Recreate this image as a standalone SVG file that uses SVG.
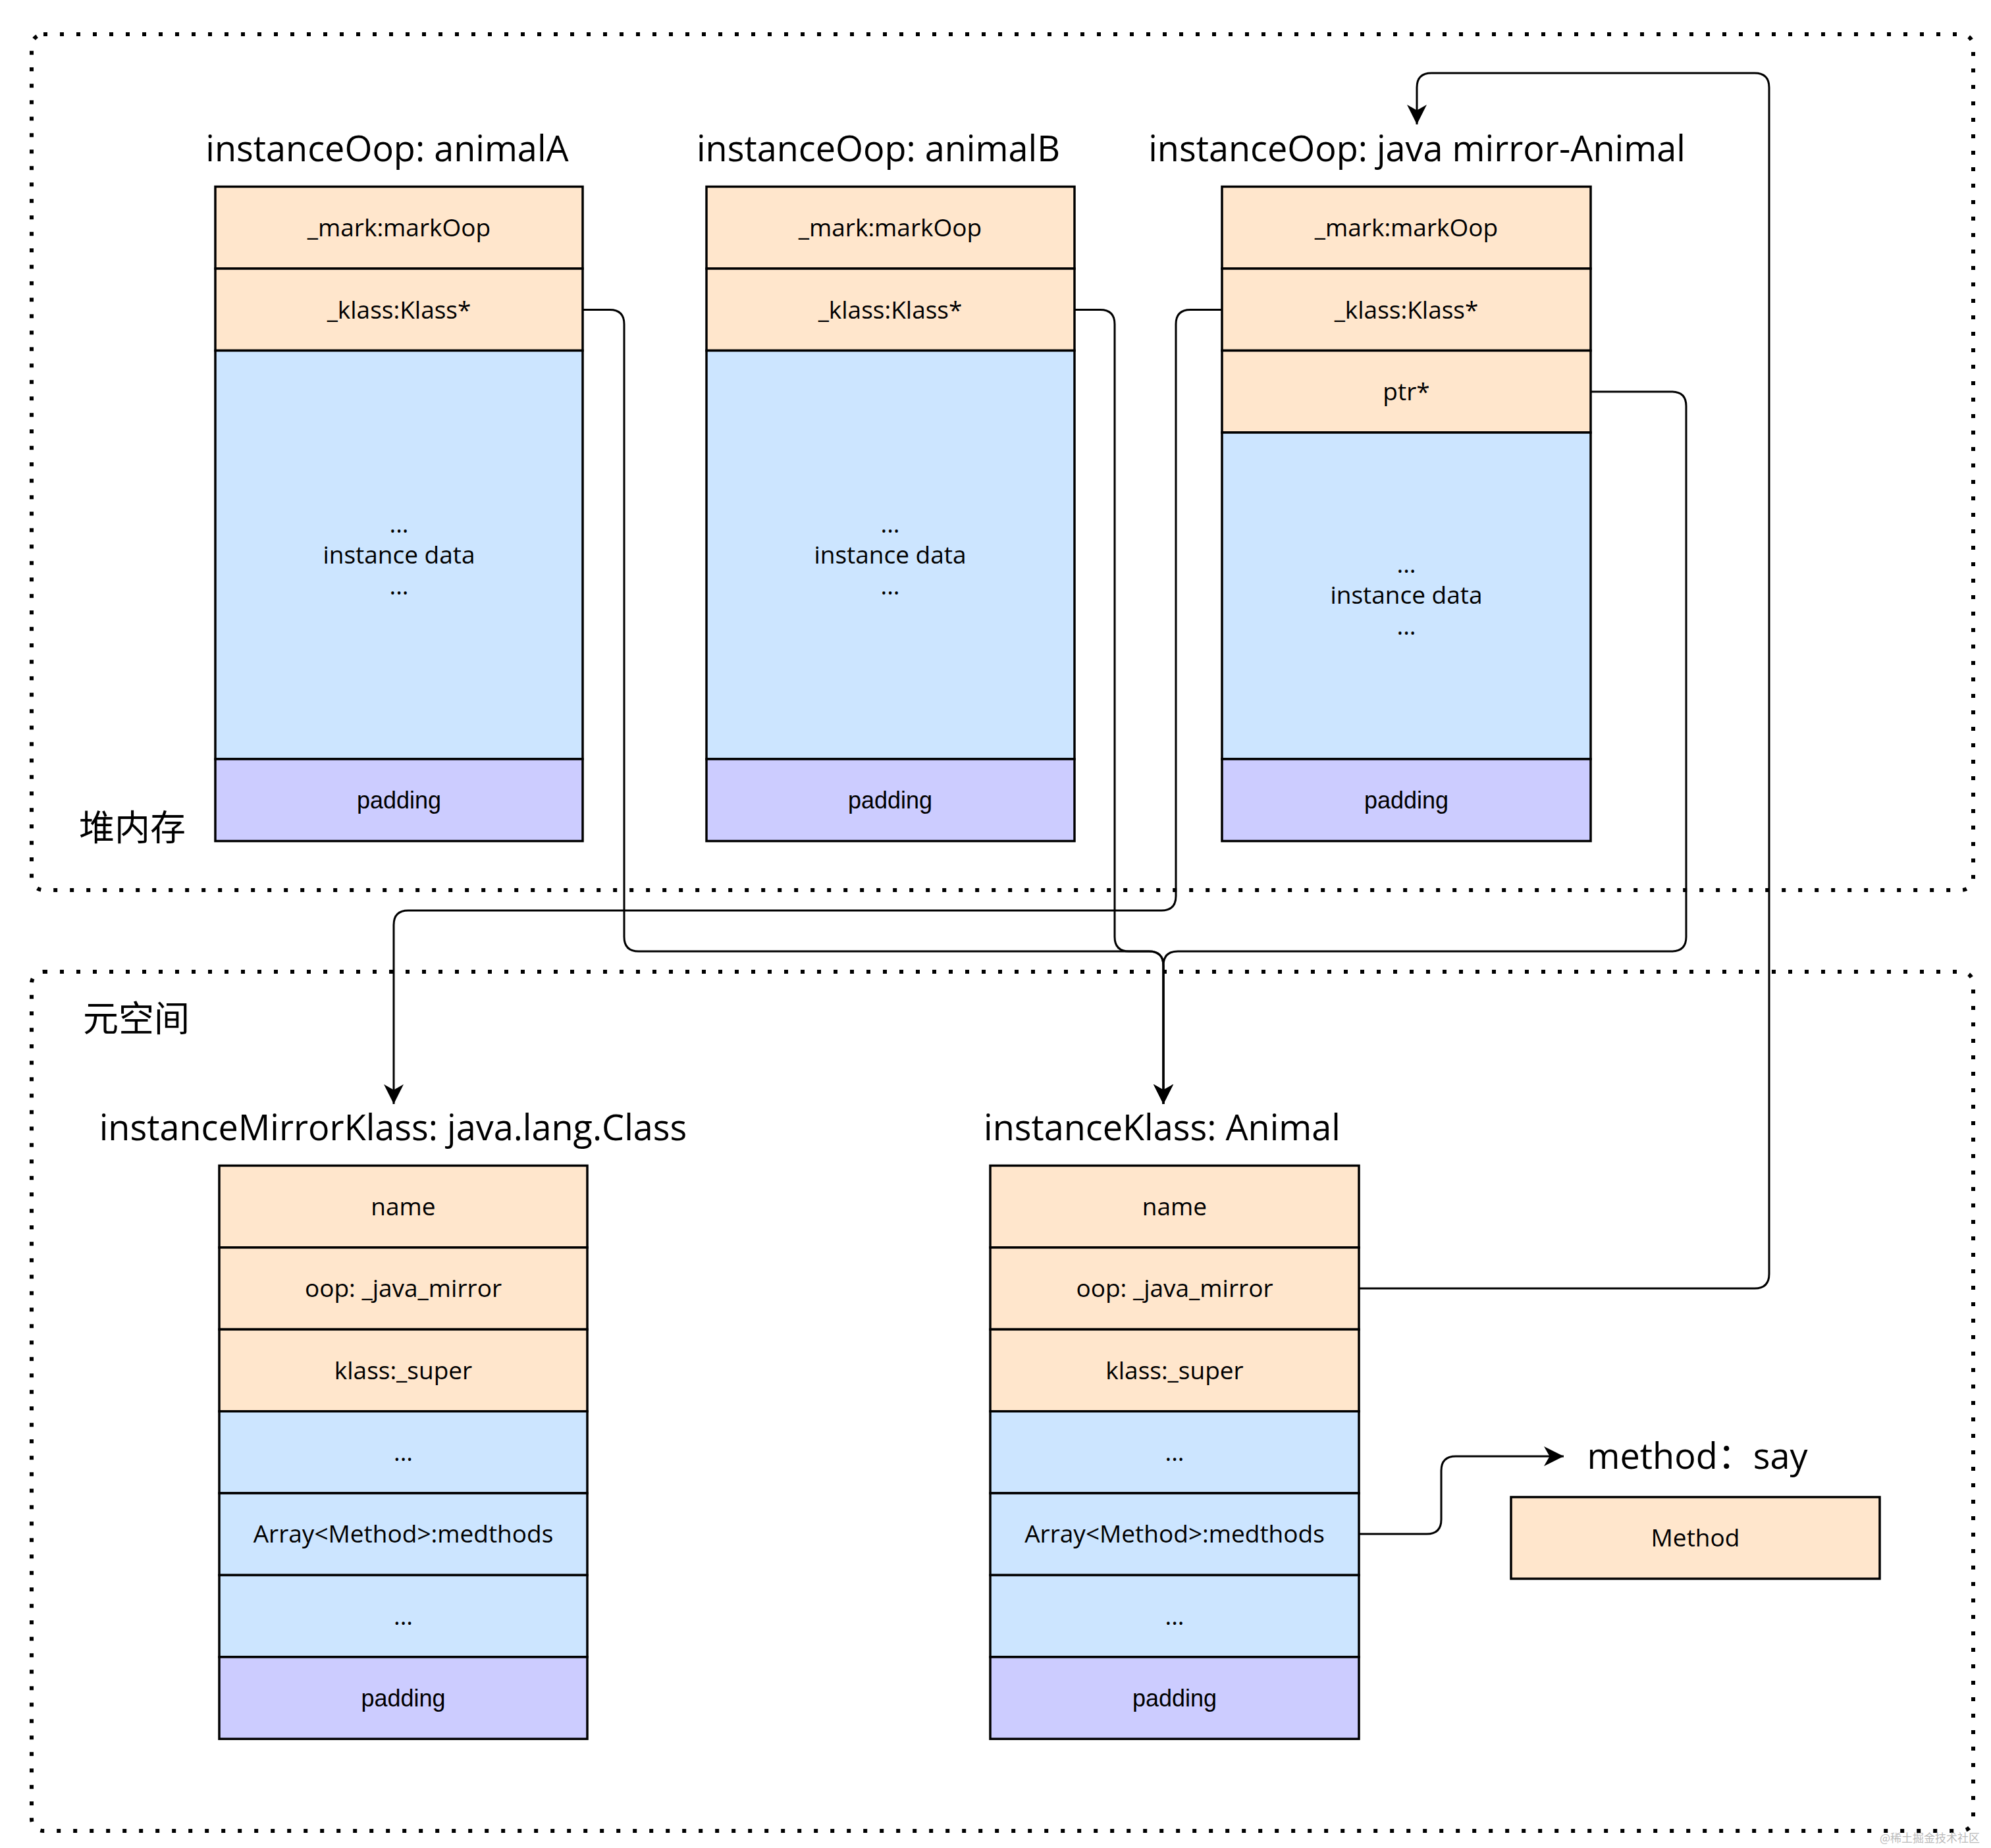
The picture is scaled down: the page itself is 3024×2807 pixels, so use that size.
<svg xmlns="http://www.w3.org/2000/svg" width="3024" height="2807" viewBox="0 0 3024 2807">
<style>
.area{fill:none;stroke:#000;stroke-width:6;stroke-dasharray:6 19;}
.o{fill:#FFE6CC;stroke:#000;stroke-width:3.5;}
.b{fill:#CCE5FF;stroke:#000;stroke-width:3.5;}
.p{fill:#CCCCFF;stroke:#000;stroke-width:3.5;}
.t{font-family:"Open Sans","Liberation Sans",sans-serif;font-size:37px;text-anchor:middle;fill:#000;}
.pad{font-family:"Liberation Sans",Arial,sans-serif;font-size:36px;text-anchor:middle;fill:#000;}
.title{font-family:"Open Sans","Liberation Sans","Noto Sans CJK SC",sans-serif;font-size:54px;text-anchor:middle;fill:#000;}
.cjk{font-family:"Noto Sans CJK SC",sans-serif;font-size:54px;fill:#000;}
.wm{font-family:"Noto Sans CJK SC",sans-serif;font-size:17px;fill:#bbbbbb;}
.c{fill:none;stroke:#000;stroke-width:3;}
</style>
<defs>
<marker id="arr" markerUnits="userSpaceOnUse" markerWidth="30" markerHeight="30" viewBox="0 0 28 28" refX="28" refY="14" orient="auto">
<path d="M0,0 L28,14 L0,28 L8,14 Z" fill="#000"/>
</marker>
</defs>
<rect width="3024" height="2807" fill="#fff"/>

<g id="heap">
<rect class="area" x="48" y="52" width="2949" height="1300" rx="18"/>
<text class="cjk" x="120" y="1277">堆内存</text>
</g>
<g id="metaspace">
<rect class="area" x="48" y="1476" width="2949" height="1305" rx="18"/>
<text class="cjk" x="126" y="1567">元空间</text>
</g>

<g id="animalA">
<text class="title" x="588" y="245">instanceOop: animalA</text>
<rect class="o" x="327" y="283.5" width="558" height="124.5"/>
<rect class="o" x="327" y="408" width="558" height="124.5"/>
<rect class="b" x="327" y="532.5" width="558" height="620.5"/>
<rect class="p" x="327" y="1153" width="558" height="124.5"/>
<text class="t" x="606" y="359">_mark:markOop</text>
<text class="t" x="606" y="484">_klass:Klass*</text>
<text class="t" x="606" y="809">...</text>
<text class="t" x="606" y="856">instance data</text>
<text class="t" x="606" y="903">...</text>
<text class="pad" x="606" y="1228">padding</text>
</g>

<g id="animalB">
<text class="title" x="1334" y="245">instanceOop: animalB</text>
<rect class="o" x="1073" y="283.5" width="559" height="124.5"/>
<rect class="o" x="1073" y="408" width="559" height="124.5"/>
<rect class="b" x="1073" y="532.5" width="559" height="620.5"/>
<rect class="p" x="1073" y="1153" width="559" height="124.5"/>
<text class="t" x="1352" y="359">_mark:markOop</text>
<text class="t" x="1352" y="484">_klass:Klass*</text>
<text class="t" x="1352" y="809">...</text>
<text class="t" x="1352" y="856">instance data</text>
<text class="t" x="1352" y="903">...</text>
<text class="pad" x="1352" y="1228">padding</text>
</g>

<g id="mirrorAnimal">
<text class="title" x="2152" y="245">instanceOop: java mirror-Animal</text>
<rect class="o" x="1856" y="283.5" width="560" height="124.5"/>
<rect class="o" x="1856" y="408" width="560" height="124.5"/>
<rect class="o" x="1856" y="532.5" width="560" height="124.5"/>
<rect class="b" x="1856" y="657" width="560" height="496"/>
<rect class="p" x="1856" y="1153" width="560" height="124.5"/>
<text class="t" x="2136" y="359">_mark:markOop</text>
<text class="t" x="2136" y="484">_klass:Klass*</text>
<text class="t" x="2136" y="608">ptr*</text>
<text class="t" x="2136" y="870">...</text>
<text class="t" x="2136" y="917">instance data</text>
<text class="t" x="2136" y="964">...</text>
<text class="pad" x="2136" y="1228">padding</text>
</g>

<g id="mirrorKlass">
<text class="title" x="597" y="1732">instanceMirrorKlass: java.lang.Class</text>
<rect class="o" x="333" y="1770.5" width="559" height="124.4"/>
<rect class="o" x="333" y="1894.9" width="559" height="124.4"/>
<rect class="o" x="333" y="2019.3" width="559" height="124.4"/>
<rect class="b" x="333" y="2143.7" width="559" height="124.4"/>
<rect class="b" x="333" y="2268.1" width="559" height="124.4"/>
<rect class="b" x="333" y="2392.5" width="559" height="124.4"/>
<rect class="p" x="333" y="2516.9" width="559" height="124.4"/>
<text class="t" x="612.5" y="1846">name</text>
<text class="t" x="612.5" y="1970">oop: _java_mirror</text>
<text class="t" x="612.5" y="2095">klass:_super</text>
<text class="t" x="612.5" y="2219">...</text>
<text class="t" x="612.5" y="2343">Array&lt;Method&gt;:medthods</text>
<text class="t" x="612.5" y="2468">...</text>
<text class="pad" x="612.5" y="2592">padding</text>
</g>

<g id="instanceKlass">
<text class="title" x="1765" y="1732">instanceKlass: Animal</text>
<rect class="o" x="1504" y="1770.5" width="560" height="124.4"/>
<rect class="o" x="1504" y="1894.9" width="560" height="124.4"/>
<rect class="o" x="1504" y="2019.3" width="560" height="124.4"/>
<rect class="b" x="1504" y="2143.7" width="560" height="124.4"/>
<rect class="b" x="1504" y="2268.1" width="560" height="124.4"/>
<rect class="b" x="1504" y="2392.5" width="560" height="124.4"/>
<rect class="p" x="1504" y="2516.9" width="560" height="124.4"/>
<text class="t" x="1784" y="1846">name</text>
<text class="t" x="1784" y="1970">oop: _java_mirror</text>
<text class="t" x="1784" y="2095">klass:_super</text>
<text class="t" x="1784" y="2219">...</text>
<text class="t" x="1784" y="2343">Array&lt;Method&gt;:medthods</text>
<text class="t" x="1784" y="2468">...</text>
<text class="pad" x="1784" y="2592">padding</text>
</g>

<g id="methodSay">
<text class="title" x="2578" y="2231">method：say</text>
<rect class="o" x="2295" y="2274" width="560" height="124"/>
<text class="t" x="2575" y="2349">Method</text>
</g>

<g id="connectors">
<path class="c" marker-end="url(#arr)" d="M885,470.5 H926 Q948,470.5 948,492.5 V1423 Q948,1445 970,1445 H1745 Q1767,1445 1767,1467 V1677"/>
<path class="c" marker-end="url(#arr)" d="M1632,470.5 H1671 Q1693,470.5 1693,492.5 V1423 Q1693,1445 1715,1445 H1745 Q1767,1445 1767,1467 V1677"/>
<path class="c" marker-end="url(#arr)" d="M2416,595 H2539 Q2561,595 2561,617 V1423 Q2561,1445 2539,1445 H1789 Q1767,1445 1767,1467 V1677"/>
<path class="c" marker-end="url(#arr)" d="M1856,470.5 H1808 Q1786,470.5 1786,492.5 V1361 Q1786,1383 1764,1383 H620 Q598,1383 598,1405 V1677"/>
<path class="c" marker-end="url(#arr)" d="M2064,1957 H2665 Q2687,1957 2687,1935 V133 Q2687,111 2665,111 H2174 Q2152,111 2152,133 V189"/>
<path class="c" marker-end="url(#arr)" d="M2064,2330 H2167 Q2189,2330 2189,2308 V2234 Q2189,2212 2211,2212 H2375"/>
</g>

<text class="wm" x="2855" y="2798">@稀土掘金技术社区</text>
</svg>
